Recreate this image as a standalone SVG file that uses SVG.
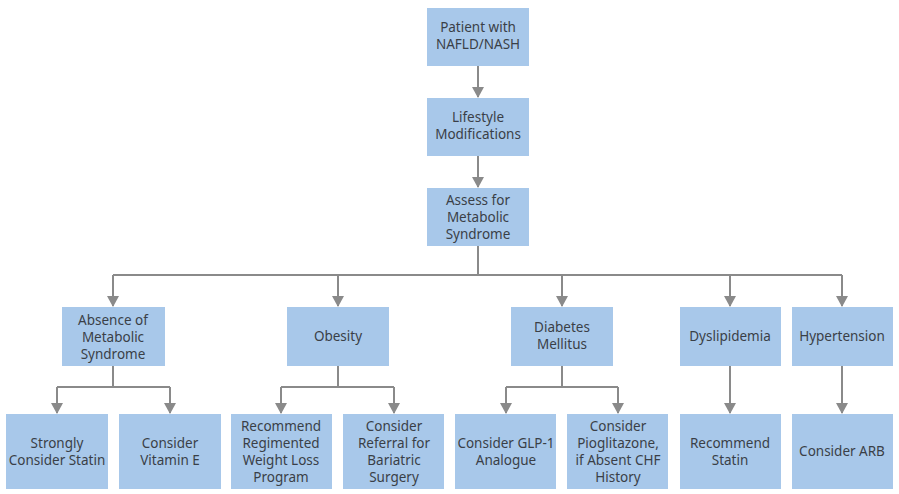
<svg xmlns="http://www.w3.org/2000/svg" width="899" height="494" viewBox="0 0 899 494">
<style>
.b{fill:#a8c8ea}
text{font-family:"Noto Sans","Liberation Sans",sans-serif;font-size:13.5px;fill:#3a3f47;text-anchor:middle}
.c{stroke:#8a8a8a;stroke-width:2;fill:none}
</style>
<defs><marker id="a" markerWidth="11" markerHeight="12" refX="10" refY="6" orient="auto" markerUnits="userSpaceOnUse" viewBox="0 0 11 12"><path d="M0,0 L11,6 L0,12 z" fill="#8a8a8a"/></marker></defs>
<rect width="899" height="494" fill="#fff"/>
<g id="connectors" class="c">
<path d="M478,66 V97" marker-end="url(#a)"/>
<path d="M478,156 V187" marker-end="url(#a)"/>
<path d="M478,246 V275"/>
<path d="M113,275 H842"/>
<path d="M113,275 V306" marker-end="url(#a)"/>
<path d="M338,275 V306" marker-end="url(#a)"/>
<path d="M562,275 V306" marker-end="url(#a)"/>
<path d="M730,275 V306" marker-end="url(#a)"/>
<path d="M842,275 V306" marker-end="url(#a)"/>
<path d="M113,366 V387 M57,387 H170"/>
<path d="M57,387 V413" marker-end="url(#a)"/>
<path d="M170,387 V413" marker-end="url(#a)"/>
<path d="M338,366 V387 M281,387 H394"/>
<path d="M281,387 V413" marker-end="url(#a)"/>
<path d="M394,387 V413" marker-end="url(#a)"/>
<path d="M562,366 V387 M506,387 H618"/>
<path d="M506,387 V413" marker-end="url(#a)"/>
<path d="M618,387 V413" marker-end="url(#a)"/>
<path d="M730,366 V413" marker-end="url(#a)"/>
<path d="M842,366 V413" marker-end="url(#a)"/>
</g>
<g id="n1"><rect class="b" x="427" y="8" width="102" height="58"/><text x="478" y="32">Patient with</text><text x="478" y="49">NAFLD/NASH</text></g>
<g id="n2"><rect class="b" x="427" y="98" width="102" height="58"/><text x="478" y="122">Lifestyle</text><text x="478" y="139">Modifications</text></g>
<g id="n3"><rect class="b" x="427" y="188" width="102" height="58"/><text x="478" y="205">Assess for</text><text x="478" y="222">Metabolic</text><text x="478" y="239">Syndrome</text></g>
<g id="n4"><rect class="b" x="62" y="307" width="103" height="59"/><text x="113" y="325">Absence of</text><text x="113" y="342">Metabolic</text><text x="113" y="359">Syndrome</text></g>
<g id="n5"><rect class="b" x="287" y="307" width="102" height="59"/><text x="338" y="341">Obesity</text></g>
<g id="n6"><rect class="b" x="511" y="307" width="102" height="59"/><text x="562" y="332">Diabetes</text><text x="562" y="349">Mellitus</text></g>
<g id="n7"><rect class="b" x="680" y="307" width="101" height="59"/><text x="730" y="341">Dyslipidemia</text></g>
<g id="n8"><rect class="b" x="792" y="307" width="101" height="59"/><text x="842" y="341">Hypertension</text></g>
<g id="n9"><rect class="b" x="6" y="414" width="102" height="75"/><text x="57" y="448">Strongly</text><text x="57" y="465">Consider Statin</text></g>
<g id="n10"><rect class="b" x="119" y="414" width="102" height="75"/><text x="170" y="448">Consider</text><text x="170" y="465">Vitamin E</text></g>
<g id="n11"><rect class="b" x="231" y="414" width="101" height="75"/><text x="281" y="431">Recommend</text><text x="281" y="448">Regimented</text><text x="281" y="465">Weight Loss</text><text x="281" y="482">Program</text></g>
<g id="n12"><rect class="b" x="343" y="414" width="101" height="75"/><text x="394" y="431">Consider</text><text x="394" y="448">Referral for</text><text x="394" y="465">Bariatric</text><text x="394" y="482">Surgery</text></g>
<g id="n13"><rect class="b" x="455" y="414" width="101" height="75"/><text x="506" y="448">Consider GLP-1</text><text x="506" y="465">Analogue</text></g>
<g id="n14"><rect class="b" x="567" y="414" width="101" height="75"/><text x="618" y="431">Consider</text><text x="618" y="448">Pioglitazone,</text><text x="618" y="465">if Absent CHF</text><text x="618" y="482">History</text></g>
<g id="n15"><rect class="b" x="680" y="414" width="101" height="75"/><text x="730" y="448">Recommend</text><text x="730" y="465">Statin</text></g>
<g id="n16"><rect class="b" x="792" y="414" width="101" height="75"/><text x="842" y="456">Consider ARB</text></g>
</svg>
